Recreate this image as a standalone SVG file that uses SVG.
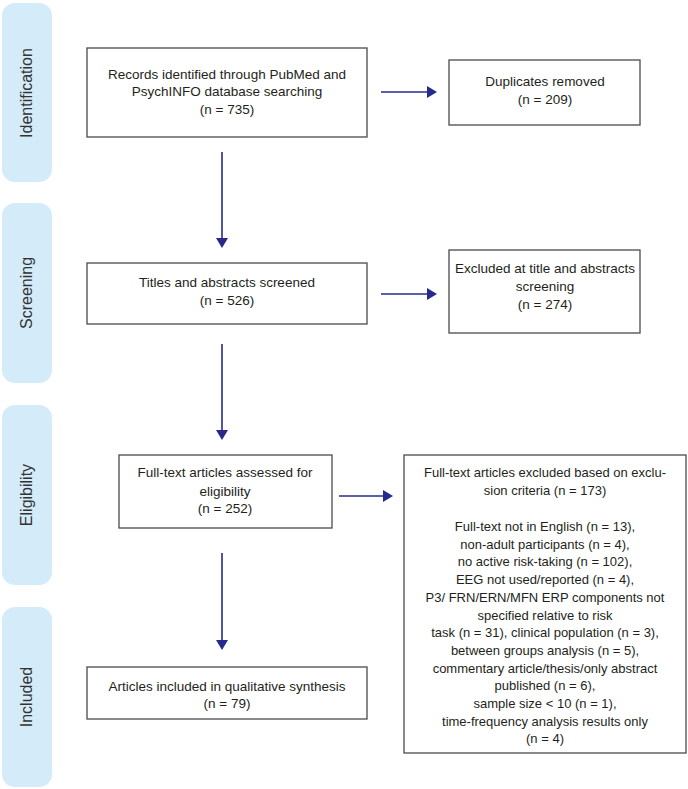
<svg xmlns="http://www.w3.org/2000/svg" width="688" height="789" viewBox="0 0 688 789">
<style>
.lab{fill:#d4ebfa;}
.labt{font-family:"Liberation Sans",Arial,sans-serif;font-size:16px;fill:#333;text-anchor:middle;}
.box{fill:#fff;stroke:#4a4a4a;stroke-width:1.3;}
.t{font-family:"Liberation Sans",Arial,sans-serif;font-size:13.5px;fill:#231f20;text-anchor:middle;}
.s{font-size:13px;}
.c{stroke:#262a8c;stroke-width:1.6;fill:none;}
.h{fill:#262a8c;}
</style>
<rect width="688" height="789" fill="#fff"/>
<g id="label-identification"><rect class="lab" x="2" y="3" width="50" height="179" rx="13"/><text class="labt" transform="translate(32,93) rotate(-90)">Identification</text></g>
<g id="label-screening"><rect class="lab" x="2" y="203" width="50" height="180" rx="13"/><text class="labt" transform="translate(32,293) rotate(-90)">Screening</text></g>
<g id="label-eligibility"><rect class="lab" x="2" y="405" width="50" height="180" rx="13"/><text class="labt" transform="translate(32,495) rotate(-90)">Eligibility</text></g>
<g id="label-included"><rect class="lab" x="2" y="607" width="50" height="180" rx="13"/><text class="labt" transform="translate(32,697) rotate(-90)">Included</text></g>

<g id="records"><rect class="box" x="87" y="48" width="280" height="89"/>
<text class="t" x="227" y="79">Records identified through PubMed and</text>
<text class="t" x="227" y="96">PsychINFO database searching</text>
<text class="t" x="227" y="114">(n = 735)</text></g>

<g id="duplicates"><rect class="box" x="449" y="60" width="191" height="65"/>
<text class="t" x="545" y="86">Duplicates removed</text>
<text class="t" x="545" y="104">(n = 209)</text></g>

<g id="screened"><rect class="box" x="87" y="263" width="280" height="61"/>
<text class="t" x="227" y="287">Titles and abstracts screened</text>
<text class="t" x="227" y="305">(n = 526)</text></g>

<g id="excluded-title"><rect class="box" x="449" y="250" width="191" height="83"/>
<text class="t" x="545" y="273">Excluded at title and abstracts</text>
<text class="t" x="545" y="291">screening</text>
<text class="t" x="545" y="309">(n = 274)</text></g>

<g id="fulltext"><rect class="box" x="119" y="455" width="213" height="73"/>
<text class="t" x="225" y="477">Full-text articles assessed for</text>
<text class="t" x="225" y="496">eligibility</text>
<text class="t" x="225" y="513">(n = 252)</text></g>

<g id="excluded-fulltext"><rect class="box" x="404" y="455" width="282" height="298"/>
<text class="t s" x="545" y="477">Full-text articles excluded based on exclu-</text>
<text class="t s" x="545" y="495">sion criteria (n = 173)</text>
<text class="t s" x="545" y="531">Full-text not in English (n = 13),</text>
<text class="t s" x="545" y="548.5">non-adult participants (n = 4),</text>
<text class="t s" x="545" y="566">no active risk-taking (n = 102),</text>
<text class="t s" x="545" y="584">EEG not used/reported (n = 4),</text>
<text class="t s" x="545" y="602">P3/ FRN/ERN/MFN ERP components not</text>
<text class="t s" x="545" y="619.5">specified relative to risk</text>
<text class="t s" x="545" y="637">task (n = 31), clinical population (n = 3),</text>
<text class="t s" x="545" y="655">between groups analysis (n = 5),</text>
<text class="t s" x="545" y="673">commentary article/thesis/only abstract</text>
<text class="t s" x="545" y="690">published (n = 6),</text>
<text class="t s" x="545" y="708">sample size &lt; 10 (n = 1),</text>
<text class="t s" x="545" y="726">time-frequency analysis results only</text>
<text class="t s" x="545" y="743">(n = 4)</text></g>

<g id="included"><rect class="box" x="87" y="667" width="280" height="52"/>
<text class="t" x="227" y="691">Articles included in qualitative synthesis</text>
<text class="t" x="227" y="708">(n = 79)</text></g>

<g id="connectors">
<line class="c" x1="381" y1="92" x2="428" y2="92"/><polygon class="h" points="427,86 437,92 427,98"/>
<line class="c" x1="222" y1="152" x2="222" y2="239"/><polygon class="h" points="216,238 228,238 222,248"/>
<line class="c" x1="381" y1="294" x2="428" y2="294"/><polygon class="h" points="427,288 437,294 427,300"/>
<line class="c" x1="222" y1="344" x2="222" y2="431"/><polygon class="h" points="216,430 228,430 222,440"/>
<line class="c" x1="339" y1="496" x2="384" y2="496"/><polygon class="h" points="383,490 393,496 383,502"/>
<line class="c" x1="222" y1="553" x2="222" y2="641"/><polygon class="h" points="216,640 228,640 222,650"/>
</g>
</svg>
